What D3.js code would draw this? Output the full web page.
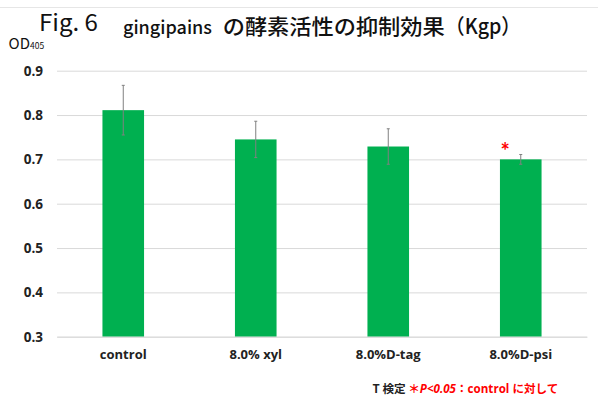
<!DOCTYPE html>
<html>
<head>
<meta charset="utf-8">
<script src="https://cdn.jsdelivr.net/npm/d3@7"></script>
<style>
  html, body { margin: 0; padding: 0; background: #fff; }
  svg { display: block; }
</style>
</head>
<body>
<svg id="chart" width="598" height="399"></svg>
<script>
// Kgp enzyme activity (OD405) per treatment group
const categories = ["control", "8.0% xyl", "8.0%D-tag", "8.0%D-psi"];
const means = [0.811, 0.745, 0.729, 0.700];
const errors = [0.056, 0.041, 0.040, 0.011];
const significant = [false, false, false, true];
const yTicks = [0.3, 0.4, 0.5, 0.6, 0.7, 0.8, 0.9];

const svg = d3.select("#chart");
const W = 598, H = 399;
const plot = { left: 57, right: 587, top: 70.7, bottom: 336.7 };

const x = d3.scaleBand()
  .domain(categories)
  .range([plot.left, plot.right])
  .paddingInner(0.686)
  .paddingOuter(0.343);

const y = d3.scaleLinear()
  .domain([0.3, 0.9])
  .range([plot.bottom, plot.top]);

const latin = "'Open Sans', Lato, sans-serif";
const jp = "'Noto Sans CJK JP', sans-serif";

// faint rule across the top of the slide
svg.append("line")
  .attr("x1", 0).attr("x2", W).attr("y1", 7.5).attr("y2", 7.5)
  .attr("stroke", "#e6e6e6").attr("stroke-width", 1);

// title
const title = svg.append("g").attr("fill", "#111");
title.append("text").attr("x", 39).attr("y", 31)
  .attr("font-family", jp).attr("font-size", 23)
  .attr("textLength", 59).attr("lengthAdjust", "spacingAndGlyphs")
  .text("Fig. 6");
title.append("text").attr("x", 123).attr("y", 34)
  .attr("font-family", jp).attr("font-size", 18).attr("font-weight", 500)
  .attr("textLength", 89).attr("lengthAdjust", "spacingAndGlyphs")
  .text("gingipains");
title.append("text").attr("x", 222.7).attr("y", 34)
  .attr("font-family", jp).attr("font-size", 21).attr("font-weight", 500)
  .attr("textLength", 222).attr("lengthAdjust", "spacingAndGlyphs")
  .text("の酵素活性の抑制効果");
title.append("text").attr("x", 445).attr("y", 34)
  .attr("font-family", jp).attr("font-size", 21).attr("font-weight", 500)
  .attr("textLength", 76).attr("lengthAdjust", "spacingAndGlyphs")
  .text("（Kgp）");

// y-axis unit label
const od = svg.append("text").attr("x", 8.5).attr("y", 48.5)
  .attr("font-family", jp).attr("font-size", 15).attr("fill", "#111");
od.append("tspan").text("OD");
od.append("tspan").attr("font-size", 8.5).text("405");

// gridlines and value labels
const yAxis = d3.axisLeft(y)
  .tickValues(yTicks)
  .tickSize(-(plot.right - plot.left))
  .tickFormat(d3.format(".1f"))
  .tickPadding(14);

const yg = svg.append("g")
  .attr("transform", `translate(${plot.left},0)`)
  .call(yAxis);
yg.select(".domain").remove();
yg.selectAll(".tick line").attr("stroke", "#d9d9d9").attr("stroke-width", 1);
yg.selectAll(".tick text")
  .attr("font-family", latin).attr("font-weight", "bold")
  .attr("font-size", 13.5).attr("fill", "#222");

// bars
svg.append("g").selectAll("rect")
  .data(categories)
  .join("rect")
  .attr("x", d => x(d))
  .attr("width", x.bandwidth())
  .attr("y", (d, i) => y(means[i]))
  .attr("height", (d, i) => y(0.3) - y(means[i]))
  .attr("fill", "#00b050");

// error bars
const eb = svg.append("g").attr("stroke", "#808080").attr("stroke-width", 1);
categories.forEach((c, i) => {
  const cx = x(c) + x.bandwidth() / 2;
  const y1 = y(means[i] + errors[i]);
  const y2 = y(means[i] - errors[i]);
  eb.append("line").attr("x1", cx).attr("x2", cx).attr("y1", y1).attr("y2", y2);
  eb.append("line").attr("x1", cx - 1.5).attr("x2", cx + 1.5).attr("y1", y1).attr("y2", y1);
  eb.append("line").attr("x1", cx - 1.5).attr("x2", cx + 1.5).attr("y1", y2).attr("y2", y2);
});

// significance markers
categories.forEach((c, i) => {
  if (!significant[i]) return;
  svg.append("text")
    .attr("x", x(c) + x.bandwidth() / 2 - 15.5)
    .attr("y", y(means[i] + errors[i]) + 5)
    .attr("text-anchor", "middle")
    .attr("font-family", "Lato, sans-serif").attr("font-weight", "bold")
    .attr("font-size", 22).attr("fill", "#ff0000")
    .text("*");
});

// category axis
const xAxis = d3.axisBottom(x).tickSize(0).tickPadding(13);
const xg = svg.append("g")
  .attr("transform", `translate(0,${plot.bottom})`)
  .call(xAxis);
xg.select(".domain").attr("stroke", "#d9d9d9");
xg.selectAll(".tick text")
  .attr("font-family", latin).attr("font-weight", "bold")
  .attr("font-size", 13).attr("fill", "#222");

// footnote
const note = svg.append("text").attr("x", 372.5).attr("y", 393)
  .attr("font-family", jp).attr("font-weight", "bold").attr("font-size", 11.6);
note.append("tspan").attr("fill", "#222").text("T 検定 ");
note.append("tspan").attr("fill", "#ff0000").text("＊");
note.append("tspan").attr("fill", "#ff0000").attr("font-style", "italic")
  .attr("font-family", latin).text("P<0.05");
note.append("tspan").attr("fill", "#ff0000").text("：");
note.append("tspan").attr("fill", "#ff0000").attr("font-family", latin).text("control ");
note.append("tspan").attr("fill", "#ff0000").text("に対して");
</script>
</body>
</html>
